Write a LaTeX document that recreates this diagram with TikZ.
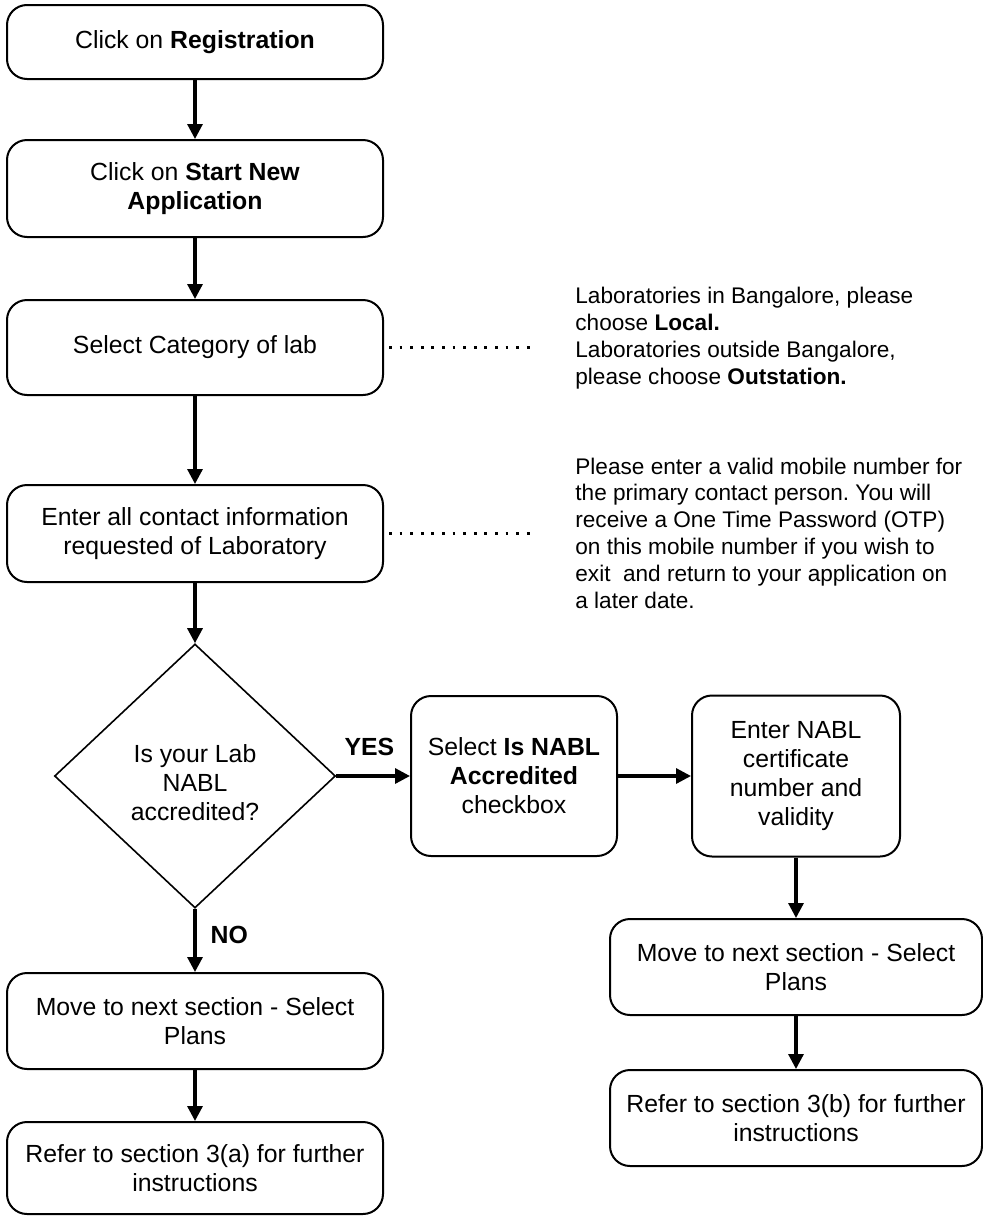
\documentclass[tikz,border=0pt]{standalone}
\usepackage{fontspec}
\setmainfont{Liberation Sans}
\usetikzlibrary{arrows.meta,shapes.geometric}
\newcommand{\boxfont}{\fontsize{12.4}{14.5}\selectfont}
\newcommand{\notefont}{\fontsize{11.3}{13.4}\selectfont}
\frenchspacing

\begin{document}
\begin{tikzpicture}[x=0.5pt,y=-0.5pt,
    stepbox/.style={draw, line width=1pt, rounded corners=10pt, align=center, inner sep=0pt, font=\boxfont},
    query/.style={draw, diamond, line width=0.8pt, align=center, inner sep=0pt, font=\boxfont},
    arr/.style={line width=1.6pt, -{Triangle[length=7.5pt,width=7.5pt]}},
    dots/.style={line width=1.4pt, dash pattern=on 1.4pt off 3.9pt},
    note/.style={anchor=west, align=left, inner sep=0pt, font=\notefont}]
  \useasboundingbox (0,0) rectangle (982,1216);

  %main column
  \node[stepbox, minimum width=188pt, minimum height=37pt] (reg) at (195,42) {Click on \textbf{Registration}};
  \node[stepbox, minimum width=188pt, minimum height=48.5pt] (start) at (195,188.5) {Click on \textbf{Start New}\\\textbf{Application}};
  \node[stepbox, minimum width=188pt, minimum height=47.5pt] (cat) at (195,347.5) {Select Category of lab};
  \node[stepbox, minimum width=188pt, minimum height=48.5pt] (cont) at (195,533.5) {Enter all contact information\\requested of Laboratory};
  \node[query, minimum width=140.5pt, minimum height=132pt] (q) at (195,776) {\rule{0pt}{16pt}Is your Lab\\NABL\\accredited?};

  %right branch
  \node[stepbox, minimum width=103pt, minimum height=80pt] (nabl) at (514,776) {Select \textbf{Is NABL}\\\textbf{Accredited}\\checkbox};
  \node[stepbox, minimum width=104pt, minimum height=80.5pt] (cert) at (796,776) {Enter NABL\\certificate\\number and\\validity};
  \node[stepbox, minimum width=186pt, minimum height=48pt] (planr) at (796,967) {Move to next section - Select\\Plans};
  \node[stepbox, minimum width=186pt, minimum height=48pt] (refb) at (796,1118) {Refer to section 3(b) for further\\instructions};

  %left branch
  \node[stepbox, minimum width=188pt, minimum height=48pt] (planl) at (195,1021) {Move to next section - Select\\Plans};
  \node[stepbox, minimum width=188pt, minimum height=46pt] (refa) at (195,1168) {Refer to section 3(a) for further\\instructions};

  %notes
  \node[note] (n1) at (575,338) {Laboratories in Bangalore, please\\choose \textbf{Local.}\\Laboratories outside Bangalore,\\please choose \textbf{Outstation.}};
  \node[note] (n2) at (575,533) {Please enter a valid mobile number for\\the primary contact person. You will\\receive a One Time Password (OTP)\\on this mobile number if you wish to\\exit \ and return to your application on\\a later date.};
  \coordinate (c1) at (537,347.5);
  \coordinate (c2) at (537,533.5);

  \draw[arr] (reg) -- (start);
  \draw[arr] (start) -- (cat);
  \draw[arr] (cat) -- (cont);
  \draw[arr] (cont) -- (q);
  \draw[arr] (q.east) -- node[pos=0.45, above=9.5pt, font=\boxfont\bfseries, inner sep=0pt] {YES} (nabl.west);
  \draw[arr] (nabl) -- (cert);
  \draw[arr] (cert) -- (planr);
  \draw[arr] (planr) -- (refb);
  \draw[arr] (q.south) -- node[pos=0.42, right=7pt, font=\boxfont\bfseries, inner sep=0pt] {NO} (planl.north);
  \draw[arr] (planl) -- (refa);
  \draw[dots] ([xshift=2.5pt]cat.east) -- (c1);
  \draw[dots] ([xshift=2.5pt]cont.east) -- (c2);
\end{tikzpicture}
\end{document}
